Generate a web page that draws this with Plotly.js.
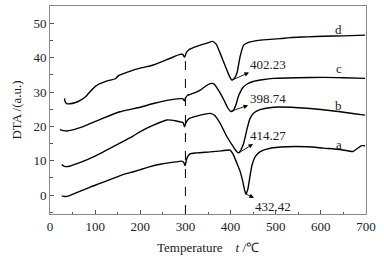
<!DOCTYPE html>
<html>
<head>
<meta charset="utf-8">
<script src="https://cdn.plot.ly/plotly-3.0.1.min.js"></script>
<style>html,body{margin:0;padding:0;background:#fff;}#chart{width:384px;height:259px;}</style>
</head>
<body>
<div id="chart"></div>
<script>
// Temperature (°C) and DTA signal (a.u.) for the four samples
var aT = [26, 33, 40, 55, 74, 90, 111, 140, 165, 185, 205, 222, 244, 262, 280, 291, 296, 299, 301, 304, 310, 325, 355, 380, 399, 406, 414, 421, 427, 431, 434, 438, 443, 448, 455, 465, 480, 510, 570, 606, 643, 664, 671, 680, 690, 698];
var aV = [-0.2, -0.4, -0.3, 0.5, 1.5, 2.4, 3.4, 4.9, 6.1, 6.8, 7.6, 8.3, 9.0, 9.4, 9.7, 9.9, 9.6, 8.6, 9.5, 11.0, 12.0, 12.3, 12.6, 12.9, 13.1, 11.8, 9.3, 7.0, 4.0, 1.5, 0.3, 1.6, 5.5, 9.0, 11.3, 12.6, 13.4, 14.0, 14.1, 13.7, 13.3, 12.8, 12.7, 13.5, 14.4, 14.4];

var bT = [26, 32, 37, 45, 60, 80, 111, 150, 184, 200, 229, 259, 280, 290, 295, 298, 301, 305, 310, 333, 355, 365, 377, 392, 406, 413, 418, 423, 429, 436, 443, 452, 465, 495, 569, 643, 698];
var bV = [8.9, 8.4, 8.3, 8.5, 9.2, 10.2, 12.1, 14.8, 17.2, 18.5, 20.4, 21.9, 21.6, 21.3, 21.1, 19.9, 21.0, 21.9, 22.4, 23.3, 23.8, 23.2, 20.9, 17.0, 14.1, 12.8, 12.3, 13.2, 15.1, 19.0, 22.3, 24.0, 24.9, 25.6, 25.3, 24.3, 23.3];

var cT = [22, 30, 37, 50, 65, 81, 110, 155, 200, 229, 259, 273, 288, 294, 298, 301, 305, 310, 318, 325, 333, 345, 355, 363, 372, 385, 393, 400, 405, 411, 418, 427, 436, 450, 470, 495, 550, 606, 650, 698];
var cV = [19.1, 18.8, 18.7, 19.0, 19.6, 20.4, 22.0, 24.3, 25.6, 26.7, 27.6, 27.9, 28.1, 28.1, 27.5, 28.5, 29.1, 29.3, 29.7, 30.1, 30.6, 31.8, 32.5, 32.4, 30.8, 27.8, 25.6, 24.4, 24.5, 26.0, 29.0, 31.3, 32.3, 33.1, 33.6, 34.0, 34.2, 34.3, 34.2, 34.0];

var dT = [32, 34, 38, 44, 55, 67, 80, 89, 103, 125, 145, 150, 155, 175, 200, 229, 244, 265, 288, 294, 298, 302, 307, 320, 333, 348, 360, 368, 377, 384, 392, 398, 403, 408, 414, 421, 429, 440, 458, 480, 510, 532, 570, 606, 650, 698];
var dV = [28.2, 27.1, 26.6, 26.6, 26.9, 27.6, 28.8, 30.2, 31.9, 33.2, 33.9, 34.6, 35.0, 36.0, 37.0, 37.9, 38.7, 39.8, 41.0, 41.0, 40.2, 41.5, 42.3, 43.1, 43.7, 44.3, 44.8, 44.0, 41.3, 39.0, 36.4, 34.5, 33.5, 34.0, 35.5, 40.3, 43.7, 44.5, 45.0, 45.3, 45.6, 45.9, 46.1, 46.3, 46.4, 46.6];

// Peak temperatures (labels), their minima and label positions
var peakLabels = ["402.23", "398.74", "414.27", "432.42"];
var peakT = [403, 400, 418, 434];
var peakV = [33.5, 24.4, 12.3, 0.3];
var peakLabelT = [484, 482, 482, 495];
var peakLabelV = [38.2, 28.1, 17.5, -3.4];

// Curve names and their label positions
var curveNames = ["a", "b", "c", "d"];
var curveLabelT = [640, 640, 640, 640];
var curveLabelV = [14.8, 26.0, 36.9, 48.3];

var transitionT = 300;
var transitionTop = 40;

var xRange = [0, 700];
var yRange = [-5.5, 55.1];

var font = "Liberation Serif, Times New Roman, serif";
var txtColor = "#222";
var fs = 13;

function curve(t, v) {
  return {x: t, y: v, type: "scatter", mode: "lines",
    line: {color: "#000", width: 1.4, shape: "spline", smoothing: 0.6},
    hoverinfo: "skip", showlegend: false};
}

var data = [curve(aT, aV), curve(bT, bV), curve(cT, cV), curve(dT, dV)];

var annotations = [];
for (var i = 0; i < peakLabels.length; i++) {
  annotations.push({
    x: peakT[i], y: peakV[i], xref: "x", yref: "y",
    ax: peakLabelT[i], ay: peakLabelV[i], axref: "x", ayref: "y",
    text: peakLabels[i], showarrow: true, arrowside: "start",
    arrowhead: 2, arrowsize: 1, arrowwidth: 0.9, arrowcolor: "#000",
    startarrowhead: 2, standoff: 0, startstandoff: 0,
    font: {family: font, size: fs, color: txtColor}
  });
}
for (var j = 0; j < curveNames.length; j++) {
  annotations.push({
    x: curveLabelT[j], y: curveLabelV[j], xref: "x", yref: "y",
    text: curveNames[j], showarrow: false,
    font: {family: font, size: fs, color: txtColor}
  });
}

var layout = {
  width: 384, height: 259,
  margin: {l: 50, r: 18, t: 6, b: 45},
  paper_bgcolor: "#fff", plot_bgcolor: "#fff",
  font: {family: font, size: fs, color: txtColor},
  xaxis: {
    range: xRange, dtick: 100, tick0: 0,
    ticks: "inside", ticklen: 4, tickwidth: 1, tickcolor: "#555",
    minor: {dtick: 50, ticks: "inside", ticklen: 2, tickcolor: "#555"},
    showline: true, linecolor: "#888", linewidth: 1, mirror: true,
    showgrid: false, zeroline: false,
    tickfont: {family: font, size: fs, color: txtColor},
    title: {text: "Temperature&nbsp;&nbsp;&nbsp;&nbsp;<i>t</i> /℃", font: {family: font, size: fs, color: txtColor}, standoff: 10}
  },
  yaxis: {
    range: yRange, dtick: 10, tick0: 0,
    ticks: "inside", ticklen: 4, tickwidth: 1, tickcolor: "#555",
    minor: {dtick: 5, tick0: 0, ticks: "inside", ticklen: 3, tickcolor: "#555"},
    showline: true, linecolor: "#888", linewidth: 1, mirror: true,
    showgrid: false, zeroline: false,
    tickfont: {family: font, size: fs, color: txtColor},
    title: {text: "DTA /(a.u.)", font: {family: font, size: fs, color: txtColor}, standoff: 8}
  },
  shapes: [{
    type: "line", xref: "x", yref: "y",
    x0: transitionT, x1: transitionT, y0: yRange[0], y1: transitionTop,
    line: {color: "#000", width: 1, dash: "dash"}
  }],
  annotations: annotations
};

Plotly.newPlot("chart", data, layout, {staticPlot: true, displayModeBar: false});
</script>
</body>
</html>
